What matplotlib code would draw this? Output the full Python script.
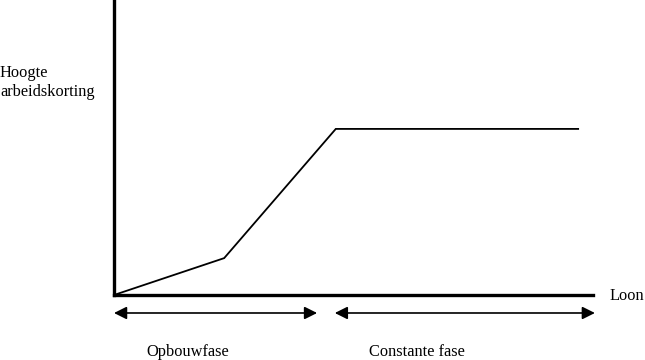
import matplotlib
matplotlib.use('agg')
import matplotlib.pyplot as plt

plt.rcParams['font.family'] = ['Liberation Serif', 'DejaVu Serif']

# Schematic: arbeidskorting against loon (arbitrary units, axis runs 0..100)
loon = [0, 23, 46.3, 96.9]
hoogte = [0, 12.5, 56.3, 56.3]

# phases below the axis: (label, start, end)
phase_labels = ['Opbouwfase', 'Constante fase']
phase_start = [0, 46.1]
phase_end = [42.4, 100.4]

fig = plt.figure(figsize=(6.45, 3.6), dpi=100)
ax = fig.add_axes([114 / 645, 65 / 360, 479 / 645, 295 / 360])

ax.plot(loon, hoogte, color='black', linewidth=1.3, solid_joinstyle='miter')

ax.set_xlim(0, 100)
ax.set_ylim(0, 100)
for side in ['top', 'right']:
    ax.spines[side].set_visible(False)
for side in ['left', 'bottom']:
    ax.spines[side].set_linewidth(2.4)
ax.set_xticks([])
ax.set_yticks([])

fs = 11.8
ax.text(-0.238, 0.72, 'Hoogte\narbeidskorting', transform=ax.transAxes,
        fontsize=fs, ha='left', va='center', linespacing=1.2)
ax.text(1.035, -0.005, 'Loon', transform=ax.transAxes,
        fontsize=fs, ha='left', va='center')

# arrows + labels for the two phases
for label, x0, x1 in zip(phase_labels, phase_start, phase_end):
    ax.annotate('', xy=(x0, -6.1), xytext=(x1, -6.1),
                arrowprops=dict(arrowstyle='<|-|>', color='black', lw=1.2,
                                mutation_scale=19, shrinkA=0, shrinkB=0),
                annotation_clip=False)

ax.text(15.5, -19.3, phase_labels[0], fontsize=fs, ha='center', va='center', clip_on=False)
ax.text(63.3, -19.3, phase_labels[1], fontsize=fs, ha='center', va='center', clip_on=False)

fig.savefig('out.png', dpi=100)
